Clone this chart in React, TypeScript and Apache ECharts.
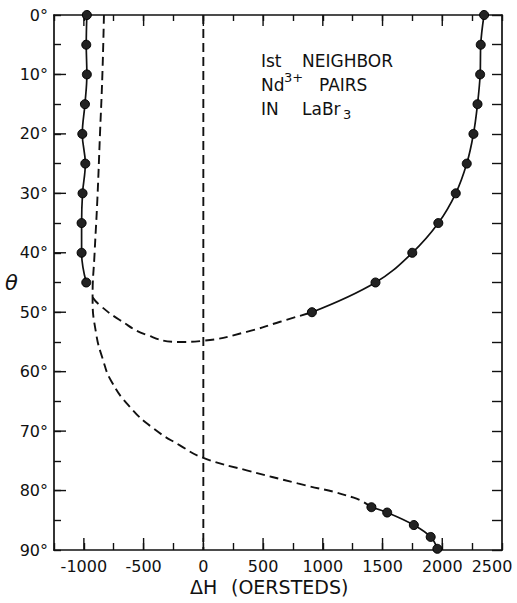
import React, { useEffect, useRef } from "react";
import * as echarts from "echarts";

// Left branch (solid, measured points)
const thetaLeft = [0, 5, 10, 15, 20, 25, 30, 35, 40, 45];
const dhLeft = [-975, -980, -975, -991, -1013, -988, -1011, -1019, -1019, -980];

// Right upper branch (solid, measured points)
const thetaRight = [0, 5, 10, 15, 20, 25, 30, 35, 40, 45, 50];
const dhRight = [2350, 2322, 2317, 2295, 2261, 2205, 2113, 1967, 1749, 1441, 909];

// Right lower branch (solid, measured points)
const thetaLow = [82.8, 83.7, 85.8, 87.8, 89.8];
const dhLow = [1407, 1539, 1762, 1903, 1959];

// Dashed curve A: from top-left down, then lower branch to the right
const thetaDashA = [0, 10, 20, 31, 40, 47.5, 53.5, 58, 61.6, 65.9, 69.5, 72.4, 74.5, 76.6, 78.8, 81.2, 82.8];
const dhDashA = [-832, -845, -865, -887, -910, -927, -898, -840, -770, -616, -421, -196, 0, 363, 790, 1259, 1407];

// Dashed curve B: upper connecting branch
const thetaDashB = [47.5, 48.8, 51.3, 53.8, 55.0, 54.8, 53.3, 51.6, 50.0];
const dhDashB = [-927, -868, -700, -476, -196, 0, 363, 643, 909];

// Vertical dashed reference at ΔH = 0
const thetaZero = [0, 90];
const dhZero = [0, 0];

// Axis ticks
const majorXTicks = [-1000, -500, 0, 500, 1000, 1500, 2000];
const majorYTicks = [10, 20, 30, 40, 50, 60, 70, 80];

const INK = "#111";
const FONT = "DejaVu Sans";

const pairs = (xs: number[], ys: number[]) => xs.map((x, i) => [x, ys[i]]);

export default function App() {
  const ref = useRef<HTMLDivElement>(null);
  useEffect(() => {
    if (!ref.current) return;
    const chart = echarts.init(ref.current, undefined, { renderer: "svg" });
    const X_MIN = -1250;
    const X_MAX = 2500;
    const Y_MIN = 0;
    const Y_MAX = 90;
    const axisLine = { show: true, onZero: false, lineStyle: { color: INK, width: 1.7 } };
    const solid = (name: string, xs: number[], ys: number[]) => ({
      name,
      type: "line",
      data: pairs(xs, ys),
      smooth: 0.4,
      symbol: "circle",
      symbolSize: 9,
      showSymbol: true,
      itemStyle: { color: "#222", borderColor: "#000", borderWidth: 1 },
      lineStyle: { color: INK, width: 1.7 },
      z: 5,
    });
    const dashed = (name: string, xs: number[], ys: number[], smooth: number | boolean) => ({
      name,
      type: "line",
      data: pairs(xs, ys),
      smooth,
      symbol: "none",
      lineStyle: { color: INK, width: 1.9, type: [9, 5] },
      z: 3,
    });
    chart.setOption({
      animation: false,
      backgroundColor: "#fff",
      grid: { left: 54, top: 15, width: 448, height: 535, containLabel: false },
      xAxis: [
        {
          type: "value",
          position: "bottom",
          min: X_MIN,
          max: X_MAX,
          interval: 250,
          axisLine,
          splitLine: { show: false },
          axisTick: { show: true, inside: true, length: 7, lineStyle: { color: INK, width: 1.4 } },
          axisLabel: {
            color: INK,
            fontFamily: FONT,
            fontSize: 16,
            margin: 8,
            formatter: (v: number) => {
              if (v === 2500) return "{r|2500}";
              return v % 500 === 0 && v >= -1000 ? String(v) : "";
            },
            rich: { r: { fontFamily: FONT, fontSize: 16, color: INK, padding: [0, 20, 0, 0] } },
          },
        },
        {
          type: "value",
          position: "top",
          min: X_MIN,
          max: X_MAX,
          interval: 250,
          axisLine,
          splitLine: { show: false },
          axisTick: { show: true, inside: true, length: 6, lineStyle: { color: INK, width: 1.4 } },
          axisLabel: { show: false },
        },
      ],
      yAxis: [
        {
          type: "value",
          position: "left",
          inverse: true,
          min: Y_MIN,
          max: Y_MAX,
          interval: 5,
          axisLine,
          splitLine: { show: false },
          axisTick: { show: true, inside: true, length: 7, lineStyle: { color: INK, width: 1.4 } },
          axisLabel: {
            color: INK,
            fontFamily: FONT,
            fontSize: 16,
            margin: 6,
            formatter: (v: number) => (v % 10 === 0 ? v + "°" : ""),
          },
        },
        {
          type: "value",
          position: "right",
          inverse: true,
          min: Y_MIN,
          max: Y_MAX,
          interval: 5,
          axisLine,
          splitLine: { show: false },
          axisTick: { show: true, inside: true, length: 10, lineStyle: { color: INK, width: 1.4 } },
          axisLabel: { show: false },
        },
      ],
      series: [
        dashed("zero", dhZero, thetaZero, false),
        dashed("dashA", dhDashA, thetaDashA, 0.5),
        dashed("dashB", dhDashB, thetaDashB, 0.5),
        solid("left", dhLeft, thetaLeft),
        solid("right", dhRight, thetaRight),
        solid("low", dhLow, thetaLow),
        {
          name: "majorX",
          type: "custom",
          data: majorXTicks.map((v) => [v, 0]),
          renderItem: (_p: any, api: any) => {
            const v = api.value(0);
            const b = api.coord([v, Y_MAX]);
            const t = api.coord([v, Y_MIN]);
            const st = { stroke: INK, lineWidth: 1.4 };
            return {
              type: "group",
              children: [
                { type: "line", shape: { x1: b[0], y1: b[1], x2: b[0], y2: b[1] - 12 }, style: st },
                { type: "line", shape: { x1: t[0], y1: t[1], x2: t[0], y2: t[1] + 11 }, style: st },
              ],
            };
          },
          z: 4,
        },
        {
          name: "majorY",
          type: "custom",
          data: majorYTicks.map((v) => [X_MIN, v]),
          renderItem: (_p: any, api: any) => {
            const v = api.value(1);
            const l = api.coord([X_MIN, v]);
            return {
              type: "line",
              shape: { x1: l[0], y1: l[1], x2: l[0] + 12, y2: l[1] },
              style: { stroke: INK, lineWidth: 1.4 },
            };
          },
          z: 4,
        },
      ],
      graphic: [
        { type: "text", left: 5, top: 272, style: { text: "θ", fontFamily: FONT, fontStyle: "italic", fontSize: 21, fill: INK } },
        { type: "text", x: 261, y: 61, style: { text: "Ist", fontFamily: FONT, fontSize: 17, fill: INK, verticalAlign: "middle" } },
        { type: "text", x: 302, y: 61, style: { text: "NEIGHBOR", fontFamily: FONT, fontSize: 17, fill: INK, verticalAlign: "middle" } },
        { type: "text", x: 261, y: 85, style: { text: "Nd", fontFamily: FONT, fontSize: 17, fill: INK, verticalAlign: "middle" } },
        { type: "text", x: 284, y: 77, style: { text: "3+", fontFamily: FONT, fontSize: 13, fill: INK, verticalAlign: "middle" } },
        { type: "text", x: 319, y: 85, style: { text: "PAIRS", fontFamily: FONT, fontSize: 17, fill: INK, verticalAlign: "middle" } },
        { type: "text", x: 261, y: 109, style: { text: "IN", fontFamily: FONT, fontSize: 17, fill: INK, verticalAlign: "middle" } },
        { type: "text", x: 302, y: 109, style: { text: "LaBr", fontFamily: FONT, fontSize: 17, fill: INK, verticalAlign: "middle" } },
        { type: "text", x: 343, y: 114, style: { text: "3", fontFamily: FONT, fontSize: 13, fill: INK, verticalAlign: "middle" } },
        { type: "text", x: 190, y: 587, style: { text: "ΔH", fontFamily: FONT, fontSize: 19, fill: INK, verticalAlign: "middle" } },
        { type: "text", x: 231, y: 587, style: { text: "(OERSTEDS)", fontFamily: FONT, fontSize: 19, fill: INK, verticalAlign: "middle" } },
      ],
    });
    return () => chart.dispose();
  }, []);
  return (
    <div
      ref={ref}
      style={{ position: "fixed", left: 0, top: 0, width: 517, height: 603, background: "#fff" }}
    />
  );
}
